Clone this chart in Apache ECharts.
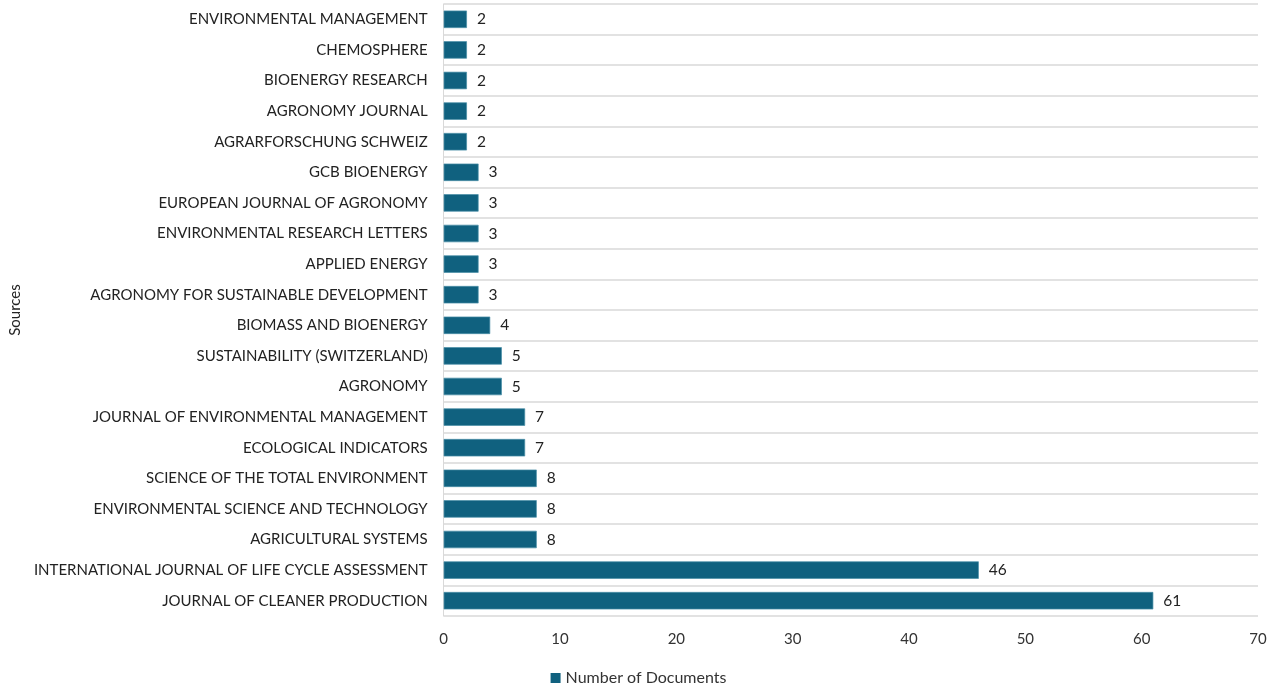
<!DOCTYPE html>
<html><head><meta charset="utf-8">
<script src="https://cdn.jsdelivr.net/npm/echarts@6/dist/echarts.min.js"></script>
<style>html,body{margin:0;padding:0;background:#fff}#c{width:1277px;height:686px}</style>
</head><body><div id="c"></div>
<script>
const categories = [
  "JOURNAL OF CLEANER PRODUCTION",
  "INTERNATIONAL JOURNAL OF LIFE CYCLE ASSESSMENT",
  "AGRICULTURAL SYSTEMS",
  "ENVIRONMENTAL SCIENCE AND TECHNOLOGY",
  "SCIENCE OF THE TOTAL ENVIRONMENT",
  "ECOLOGICAL INDICATORS",
  "JOURNAL OF ENVIRONMENTAL MANAGEMENT",
  "AGRONOMY",
  "SUSTAINABILITY (SWITZERLAND)",
  "BIOMASS AND BIOENERGY",
  "AGRONOMY FOR SUSTAINABLE DEVELOPMENT",
  "APPLIED ENERGY",
  "ENVIRONMENTAL RESEARCH LETTERS",
  "EUROPEAN JOURNAL OF AGRONOMY",
  "GCB BIOENERGY",
  "AGRARFORSCHUNG SCHWEIZ",
  "AGRONOMY JOURNAL",
  "BIOENERGY RESEARCH",
  "CHEMOSPHERE",
  "ENVIRONMENTAL MANAGEMENT"
];
const documents = [61, 46, 8, 8, 8, 7, 7, 5, 5, 4, 3, 3, 3, 3, 3, 2, 2, 2, 2, 2];
const xTicks = [0, 10, 20, 30, 40, 50, 60, 70];
const seriesName = "Number of Documents";
const axisTitle = "Sources";

const font = "Lato, 'Open Sans', sans-serif";
const chart = echarts.init(document.getElementById('c'), null, {renderer: 'canvas'});
chart.setOption({
  animation: false,
  textStyle: {fontFamily: font},
  grid: {left: 442, right: 19, top: 4, bottom: 70, containLabel: false},
  legend: {
    top: 665, left: 'center',
    data: [seriesName],
    itemWidth: 10, itemHeight: 10, itemGap: 4,
    icon: 'rect',
    itemStyle: {borderWidth: 0},
    textStyle: {fontSize: 16, color: '#333', fontFamily: font}
  },
  xAxis: {
    type: 'value', min: xTicks[0], max: xTicks[xTicks.length-1], interval: 10,
    axisLine: {show: false}, axisTick: {show: false},
    splitLine: {show: false},
    axisLabel: {fontSize: 15, color: '#333', margin: 16, fontFamily: font}
  },
  yAxis: {
    type: 'category', data: categories,
    name: axisTitle, nameLocation: 'middle', nameGap: 420, nameRotate: 90,
    nameTextStyle: {fontSize: 15, color: '#222', fontFamily: font},
    axisLine: {show: true, lineStyle: {color: '#d9d9d9', width: 1}},
    axisTick: {show: false},
    splitLine: {show: true, lineStyle: {color: '#d9d9d9', width: 1.5}},
    axisLabel: {fontSize: 15, color: '#222', margin: 16, fontFamily: font}
  },
  series: [{
    name: seriesName, type: 'bar', data: documents,
    barCategoryGap: '43%',
    itemStyle: {color: '#10617f', borderColor: '#4b8fa8', borderWidth: 0.7},
    label: {show: true, position: 'right', distance: 10, fontSize: 15.5, color: '#222', fontFamily: font}
  }]
});
</script></body></html>
